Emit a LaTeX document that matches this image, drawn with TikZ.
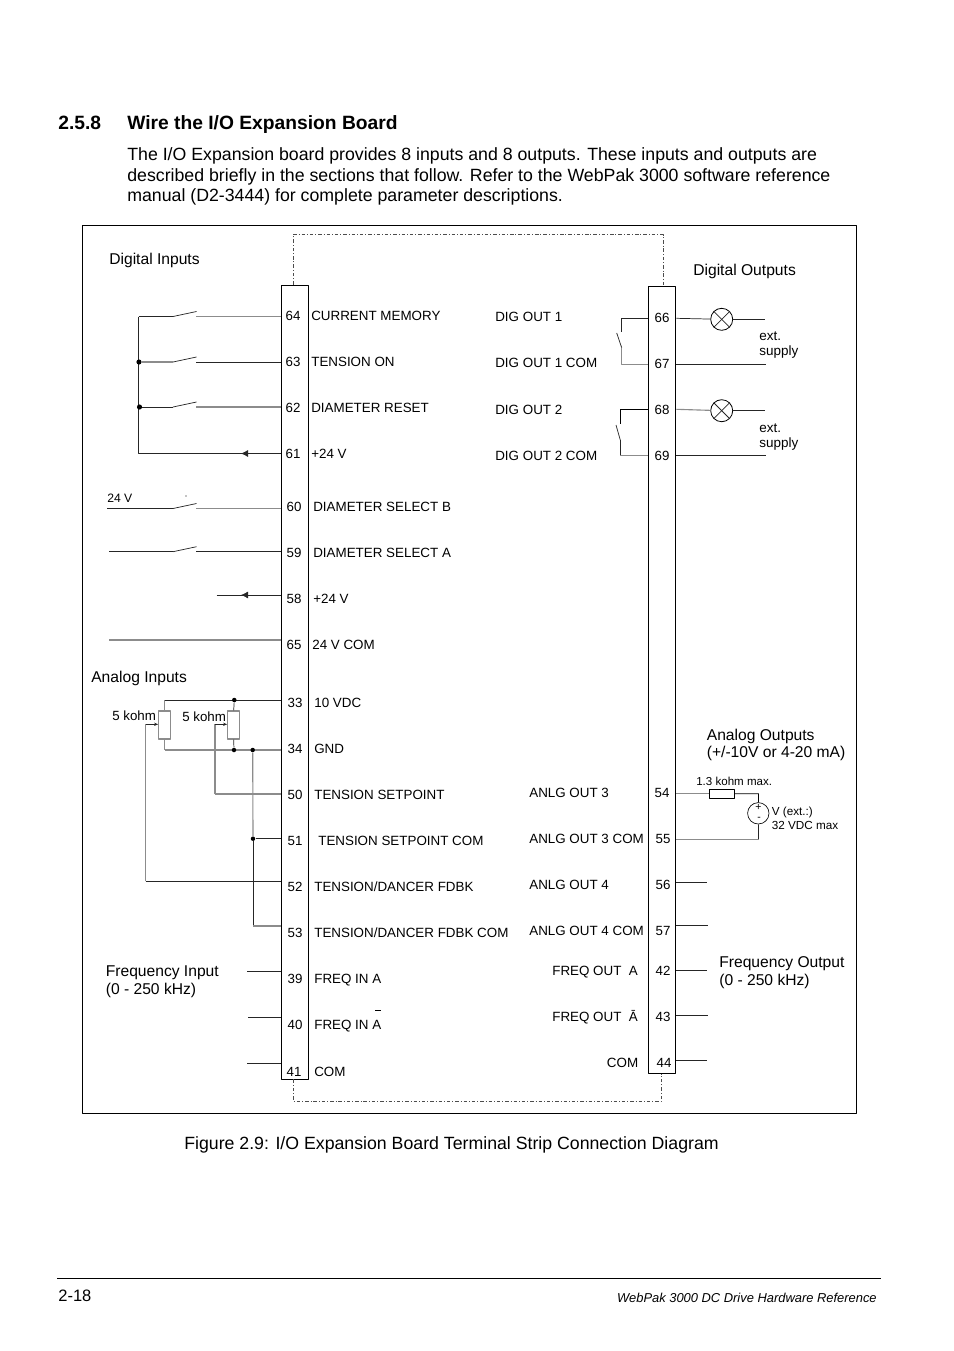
\documentclass[tikz,border=0pt]{standalone}
\usepackage{fontspec}
\setmainfont{Liberation Sans}
\usetikzlibrary{arrows.meta}
\def\px{0.6237bp}
\tikzset{
	txt/.style={anchor=west,inner sep=0pt,text height=0.716em,text depth=0pt,font=\fontsize{#1bp}{#1bp}\selectfont},
	txt/.default=8.35,
	num/.style={inner sep=0pt,text height=0.716em,text depth=0pt,font=\fontsize{8.3bp}{10bp}\selectfont},
	strip/.style={draw,line width=0.6bp,inner sep=0pt,minimum width=27*\px},
	wire/.style={line width=0.45bp,black!85},
	greywire/.style={line width=0.7bp,black!45},
	dashdot/.style={line width=0.5bp,black!70,dash pattern=on 2.2bp off 1.2bp on 0.6bp off 1.2bp},
	dot/.style={circle,fill=black,inner sep=0pt,minimum size=3.2bp},
	lamp/.style={circle,draw,line width=0.5bp,inner sep=0pt,minimum size=22*\px},
	resistor/.style={rectangle,draw,inner sep=0pt},
	bigtip/.style={{Latex[length=4.5bp,width=4.5bp]}-},
}
\begin{document}
\begin{tikzpicture}[x=\px,y=-\px,line join=round,>={Stealth[length=2.5bp,width=2bp]}]
		\useasboundingbox (0,0) rectangle (954,1351);
		% Kopf der Seite
		\node[txt=12,font=\fontsize{12bp}{12bp}\selectfont\bfseries] (secnum) at (58,123.5) {2.5.8};
		\node[txt=12,font=\fontsize{12bp}{12bp}\selectfont\bfseries] (sectitle) at (127,123.5) {Wire the I/O Expansion Board};
		\node[txt=11.06] (para1) at (127,154.5) {The I/O Expansion board provides 8 inputs and 8 outputs. These inputs and outputs are};
		\node[txt=11.06] (para2) at (127,175.5) {described briefly in the sections that follow. Refer to the WebPak 3000 software reference};
		\node[txt=11.06] (para3) at (127,195.5) {manual (D2-3444) for complete parameter descriptions.};
		\node[draw,line width=0.6bp,inner sep=0pt,minimum width=774.6*\px,minimum height=888*\px] (frame) at (469.3,669) {};
		% Klemmleisten
		\node[strip,minimum height=794*\px] (stripL) at (294.7,682) {};
		\node[strip,minimum height=786.6*\px] (stripR) at (662.3,680) {};
		\draw[dashdot] (stripL.north -| 293,0) -- (293,234.7) -- (663,234.7) -- (stripR.north -| 663,0);
		\draw[dashdot] (stripL.south -| 293.3,0) -- (293.3,1101) -- (661.7,1101) -- (stripR.south -| 661.7,0);
		\foreach \n/\x/\y in {64/293/315,63/293/361,62/293/407,61/293/453,60/294/506,59/294/552,58/294/598,65/294/644,33/295/702,34/295/748,50/295/794,51/295/840,52/295/886,53/295/932,39/295/978,40/295/1024,41/294/1071,
			66/662/317,67/662/363,68/662/409,69/662/455,54/662/792,55/663/838,56/663/884,57/663/930,42/663/970,43/663/1016,44/664/1062}
			\node[num] (t\n) at (\x,\y) {\n};
		% Texte links
		\foreach \n/\x/\y/\s in {64/311/315/CURRENT MEMORY,63/311/361/TENSION ON,62/311/407/DIAMETER RESET,61/311/453/+24 V,60/313/506/DIAMETER SELECT B,59/313/552/DIAMETER SELECT A,58/313/598/+24 V,65/312/644/24 V COM,33/314/702/10 VDC,34/314/748/GND,50/314/794/TENSION SETPOINT,51/318/840/TENSION SETPOINT COM,52/314/886/{TENSION/DANCER FDBK},53/314/932/{TENSION/DANCER FDBK COM},39/314/978/FREQ IN A,40/314/1024/FREQ IN A,41/314/1071/COM}
			\node[txt] (a\n) at (\x,\y) {\s};
		% Texte rechts
		\foreach \n/\x/\y/\s in {66/495/316/DIG OUT 1,67/495/362/DIG OUT 1 COM,68/495/409/DIG OUT 2,69/495/455/DIG OUT 2 COM,54/529/792/ANLG OUT 3,55/529/838/ANLG OUT 3 COM,56/529/884/ANLG OUT 4,57/529/930/ANLG OUT 4 COM,42/552/970/FREQ OUT\ \ A,43/552/1016/FREQ OUT\ \ Ā}
			\node[txt] (a\n) at (\x,\y) {\s};
		\node[txt,anchor=east] (a44) at (638.5,1062) {COM};
		\draw[line width=0.4bp] (375,1010) -- (380.5,1010);
		% Ueberschriften im Bild
		\node[txt=9.75] (diginlbl) at (109,259) {Digital Inputs};
		\node[txt=9.75] (digoutlbl) at (693,269.5) {Digital Outputs};
		\node[txt=9.75] (anainlbl) at (91,677) {Analog Inputs};
		\node[txt=9.75] (anaoutlbl) at (706.5,735) {Analog Outputs};
		\node[txt=9.75] (anaoutlblb) at (706.5,752) {(+/-10V or 4-20 mA)};
		\node[txt=9.75] (freqinlbl) at (105.5,971) {Frequency Input};
		\node[txt=9.75] (freqinlblb) at (105.5,989) {(0 - 250 kHz)};
		\node[txt=9.75] (freqoutlbl) at (719,962) {Frequency Output};
		\node[txt=9.75] (freqoutlblb) at (719,980) {(0 - 250 kHz)};
		\node[txt=8.4] (extA) at (759,334.5) {ext.};
		\node[txt=8.4] (extAb) at (759,349.5) {supply};
		\node[txt=8.4] (extB) at (759,426.5) {ext.};
		\node[txt=8.4] (extBb) at (759,441.5) {supply};
		\node[txt=7.6] (volts) at (107,497) {24 V};
		\node[txt=8.3] (potAlbl) at (112,715) {5 kohm};
		\node[txt=8.3] (potBlbl) at (182,716) {5 kohm};
		\node[txt=7.2] (loadlbl) at (696,780) {1.3 kohm max.};
		\node[txt=7.3] (extlbl) at (771.5,810) {V (ext.:)};
		\node[txt=7.3] (extlblb) at (771.5,824) {32 VDC max};
		% Klemmenpunkte
		\foreach \n/\y in {64/316.5,63/362,62/407,61/453.5,60/508.5,59/551.7,58/595,65/640,33/700,34/750,50/794,51/838.7,52/881,53/926,39/971,40/1017,41/1063}
			\coordinate (l\n) at (stripL.west |- 0,\y);
		\foreach \n/\y in {66/318.3,67/364.3,68/409.3,69/455.3,54/793.7,55/839.3,56/882.3,57/925.3,42/970.7,43/1015,44/1060}
			{\coordinate (r\n) at (stripR.east |- 0,\y);
			\coordinate (q\n) at (stripR.west |- 0,\y);}
		% Schalter
		\foreach \n/\y in {64/316.5,63/362,62/407,60/508.5,59/551.7}
			{\coordinate (sa\n) at (173,\y);
			\coordinate (sb\n) at (196.5,\y-5);
			\coordinate (sc\n) at (196,\y);
			\draw[wire] (sa\n) -- (sb\n);}
		\coordinate (busTop) at (138.7,316.5);
		\coordinate (busEnd) at (138.7,453.5);
		\draw[wire] (busTop) -- (busEnd) -- (l61);
		\node[dot] (j63) at (139,362) {};
		\node[dot] (j62) at (139.5,407) {};
		\coordinate (tip61) at (241,453.5);
		\draw[wire,bigtip] (tip61) -- (l61);
		\draw[wire] (busTop) -- (sa64);
		\draw[greywire] (sc64) -- (l64);
		\draw[greywire] (j63) -- (sa63);
		\draw[wire] (sc63) -- (l63);
		\draw[wire] (j62) -- (sa62);
		\draw[greywire] (sc62) -- (l62);
		\coordinate (in60) at (107,508.5);
		\coordinate (in59) at (109,551.7);
		\coordinate (in58) at (216.7,595);
		\coordinate (tip58) at (241,595);
		\coordinate (in65) at (109,640);
		\draw[wire] (in60) -- (sa60);
		\draw[greywire] (sc60) -- (l60);
		\draw[wire] (in59) -- (sa59);
		\draw[wire] (sc59) -- (l59);
		\draw[wire] (in58) -- (l58);
		\draw[wire,bigtip] (tip58) -- (l58);
		\draw[greywire] (in65) -- (l65);
		\fill (186,496) circle (0.4bp);
		% Potis
		\coordinate (potAtop) at (164.7,700);
		\coordinate (potAlow) at (164.7,750);
		\draw[wire] (potAtop) -- (l33);
		\draw[greywire] (potAlow) -- (l34);
		\node[resistor,greywire,minimum width=12*\px,minimum height=28*\px] (potA) at (164.7,725) {};
		\node[resistor,greywire,minimum width=12*\px,minimum height=28*\px] (potB) at (233.7,725) {};
		\node[dot,minimum size=2.8bp] (j33) at (234.3,700) {};
		\node[dot,minimum size=2.8bp] (j34a) at (234,750) {};
		\node[dot,minimum size=2.8bp] (j34b) at (252.7,750) {};
		\node[dot,minimum size=2.8bp] (j51) at (253,838.7) {};
		\coordinate (wipA) at (145.7,724.3);
		\coordinate (wipAb) at (145.7,881);
		\coordinate (wipB) at (215,724.3);
		\coordinate (wipBb) at (215,794);
		\coordinate (bus53) at (253,926);
		\draw[greywire] (potAtop) -- (potA.north);
		\draw[greywire] (potA.south) -- (potAlow);
		\draw[wire] (j33) -- (potB.north);
		\draw[wire] (potB.south) -- (j34a);
		\draw[greywire] (wipAb) -- (wipA);
		\draw[wire,->] (wipA) -- (potA.west |- wipA);
		\draw[wire] (wipAb) -- (l52);
		\draw[greywire] (wipBb) -- (wipB);
		\draw[wire,->] (wipB) -- (potB.west |- wipB);
		\draw[greywire] (wipBb) -- (l50);
		\draw[greywire] (j34b) -- (j51);
		\draw[wire] (j51) -- (l51);
		\draw[wire] (j51) -- (bus53);
		\draw[greywire] (bus53) -- (l53);
		\foreach \n/\x in {39/247.3,40/248,41/247.3}
			{\coordinate (in\n) at (\x,0 |- l\n);
			\draw[wire] (in\n) -- (l\n);}
		% Relaisausgaenge
		\coordinate (k66) at (621.7,318.3);
		\coordinate (k66b) at (621.7,332);
		\coordinate (k66c) at (616.7,333);
		\coordinate (k67c) at (621.7,347.7);
		\coordinate (k67) at (621.7,364.3);
		\draw[wire] (q66) -- (k66) -- (k66b);
		\draw[wire] (k66c) -- (k67c);
		\draw[greywire] (k67c) -- (k67) -- (q67);
		\coordinate (k68) at (620.3,409.3);
		\coordinate (k68b) at (620.3,424);
		\coordinate (k68c) at (616,425);
		\coordinate (k69c) at (620.3,440);
		\coordinate (k69) at (620.3,455.3);
		\draw[wire,black] (q68) -- (k68) -- (k68b);
		\draw[wire] (k68c) -- (k69c);
		\draw[wire] (k69c) -- (k69);
		\draw[greywire] (k69) -- (q69);
		% Lampen
		\node[lamp] (lampA) at (721.7,319.3) {};
		\node[lamp] (lampB) at (721.7,410.7) {};
		\foreach \l in {lampA,lampB}
			{\draw[wire] (\l.north west) -- (\l.south east);
			\draw[wire] (\l.north east) -- (\l.south west);}
		\coordinate (outA) at (765,319.3);
		\coordinate (outB) at (765,410.7);
		\coordinate (out67) at (766,364.3);
		\coordinate (out69) at (766,455.3);
		\draw[wire] (r66) -- (lampA);
		\draw[wire] (lampA) -- (outA);
		\draw[wire] (r67) -- (out67);
		\draw[greywire] (r68) -- (lampB);
		\draw[wire] (lampB) -- (outB);
		\draw[wire] (r69) -- (out69);
		% Analogausgaenge
		\node[resistor,line width=0.5bp,minimum width=25.4*\px,minimum height=9.3*\px] (load) at (722,793.7) {};
		\node[circle,draw,line width=0.4bp,inner sep=0pt,minimum size=21.4*\px] (supply) at (758.3,813.3) {};
		\node[inner sep=0pt,font=\fontsize{6.5bp}{7bp}\selectfont] (plus) at (758.3,807) {+};
		\node[inner sep=0pt,font=\fontsize{6.5bp}{7bp}\selectfont] (minus) at (759,819) {-};
		\coordinate (loadbend) at (758.5,793.7);
		\coordinate (supbend) at (758.5,839.3);
		\draw[greywire] (r54) -- (load);
		\draw[wire,black] (load) -- (loadbend) -- (supply);
		\draw[wire] (supply) -- (supbend);
		\draw[greywire,line width=0.5bp] (supbend) -- (r55);
		\foreach \n/\x in {56/707,57/708,42/707,43/708,44/707}
			{\coordinate (out\n) at (\x,0 |- r\n);
			\draw[wire] (r\n) -- (out\n);}
		% Fuss der Seite
		\node[txt=11.05] (caption) at (184,1143.5) {Figure 2.9: I/O Expansion Board Terminal Strip Connection Diagram};
		\coordinate (footL) at (57,1278);
		\coordinate (footR) at (881,1278);
		\draw[line width=0.5bp] (footL) -- (footR);
		\node[txt=10.3] (pagenum) at (58,1295.5) {2-18};
		\node[anchor=east,inner sep=0pt,text height=0.716em,text depth=0pt,font=\fontsize{8.05bp}{9bp}\selectfont\itshape] (runfoot) at (877,1296.5) {WebPak 3000 DC Drive Hardware Reference};
	\end{tikzpicture}
\end{document}
